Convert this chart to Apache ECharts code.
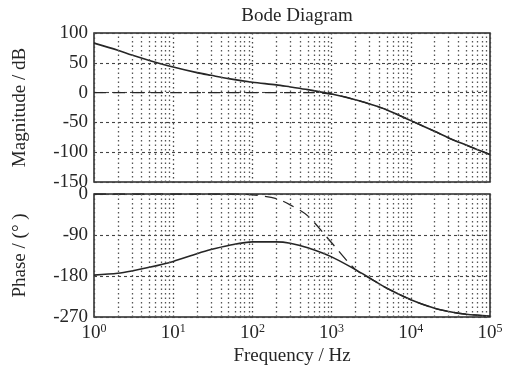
<!DOCTYPE html>
<html>
<head>
<meta charset="utf-8">
<script src="https://cdn.jsdelivr.net/npm/echarts@6/dist/echarts.min.js"></script>
<style>
  html, body { margin: 0; padding: 0; background: #fff; }
  #chart { width: 511px; height: 374px; }
</style>
</head>
<body>
<div id="chart"></div>
<script>
// frequency points (Hz)
const freqs = [1, 2, 3, 5, 10, 20, 30, 50, 100, 200, 300, 500, 1000, 2000, 3000, 5000, 10000, 20000, 30000, 50000, 100000];

// magnitude (dB)
const magSolid = [83, 71, 63, 54, 43, 33.5, 29, 23.5, 17.5, 13, 9.5, 5, -2.5, -12, -19, -29, -47, -65, -76, -88, -104];
const magDashed = [0, 0, 0, 0, 0, 0, 0, 0, 0, 0, 0, 0, -2.5, -12, -19, -29, -47, -65, -76, -88, -104];

// phase (deg)
const phaseSolid = [-178, -174, -169, -161, -148, -131, -122, -113, -105, -105, -108, -118, -138, -166, -184, -207, -232, -251, -258, -264, -268];
const phaseDashed = [0, 0, 0, 0, 0, 0, 0, 0, -2, -10, -24, -48, -107, -166, -184, -207, -232, -251, -258, -264, -268];

// axis ticks
const magTicks = { min: -150, max: 100, step: 50 };
const phaseTicks = { min: -270, max: 0, step: 90 };
const decades = [0, 1, 2, 3, 4];
const minorMult = [2, 3, 4, 5, 6, 7, 8, 9];

const pairs = ys => freqs.map((f, i) => [f, ys[i]]);
const minorLines = [];
decades.forEach(d => minorMult.forEach(m => minorLines.push({ xAxis: m * Math.pow(10, d) })));

const font = '"Liberation Serif", "DejaVu Serif", serif';
const ink = '#262626';
const gridLine = { show: true, lineStyle: { color: '#444', type: [3, 3], width: 1.1 } };
const vGridLine = { show: true, lineStyle: { color: '#444', type: [1.5, 3], width: 1.3 } };

const minorMark = {
  silent: true,
  symbol: 'none',
  label: { show: false },
  lineStyle: { color: '#555', type: [1.5, 3], width: 1.3 },
  data: minorLines,
};

const xBase = {
  type: 'log',
  logBase: 10,
  min: 1,
  max: 100000,
  axisLine: { show: false },
  axisTick: { show: false },
  splitLine: vGridLine,
};

const labelStyle = { fontFamily: font, fontSize: 19, color: ink, margin: 6 };
const nameStyle = { fontFamily: font, fontSize: 19, color: ink };

const chart = echarts.init(document.getElementById('chart'));
chart.setOption({
  animation: false,
  backgroundColor: '#fff',
  title: {
    text: 'Bode Diagram',
    left: 292,
    textAlign: 'center',
    top: 2,
    textStyle: { fontFamily: font, fontSize: 19, fontWeight: 'normal', color: ink },
  },
  grid: [
    { left: 94, top: 33, width: 396, height: 149, show: true, borderColor: ink, borderWidth: 1.5 },
    { left: 94, top: 194, width: 396, height: 123, show: true, borderColor: ink, borderWidth: 1.5 },
  ],
  xAxis: [
    { ...xBase, gridIndex: 0, axisLabel: { show: false } },
    {
      ...xBase,
      gridIndex: 1,
      name: 'Frequency / Hz',
      nameLocation: 'middle',
      nameGap: 30,
      nameTextStyle: nameStyle,
      axisLabel: {
        margin: 6,
        formatter: v => '{b|10}{s|' + Math.round(Math.log10(v)) + '}',
        rich: {
          b: { fontFamily: font, fontSize: 19, color: ink },
          s: { fontFamily: font, fontSize: 12, color: ink, padding: [0, 0, 9, 0] },
        },
      },
    },
  ],
  yAxis: [
    {
      type: 'value',
      gridIndex: 0,
      min: magTicks.min,
      max: magTicks.max,
      interval: magTicks.step,
      name: 'Magnitude / dB',
      nameLocation: 'middle',
      nameGap: 64,
      nameTextStyle: nameStyle,
      axisLine: { show: false },
      axisTick: { show: false },
      axisLabel: labelStyle,
      splitLine: gridLine,
    },
    {
      type: 'value',
      gridIndex: 1,
      min: phaseTicks.min,
      max: phaseTicks.max,
      interval: phaseTicks.step,
      name: 'Phase / (° )',
      nameLocation: 'middle',
      nameGap: 64,
      nameTextStyle: nameStyle,
      axisLine: { show: false },
      axisTick: { show: false },
      axisLabel: labelStyle,
      splitLine: gridLine,
    },
  ],
  series: [
    {
      type: 'line', xAxisIndex: 0, yAxisIndex: 0, data: pairs(magSolid),
      smooth: 0.3, showSymbol: false, lineStyle: { color: ink, width: 1.6 },
      markLine: minorMark,
    },
    {
      type: 'line', xAxisIndex: 0, yAxisIndex: 0, data: pairs(magDashed),
      smooth: 0.3, showSymbol: false, lineStyle: { color: ink, width: 1.3, type: [12, 7] },
    },
    {
      type: 'line', xAxisIndex: 1, yAxisIndex: 1, data: pairs(phaseSolid),
      smooth: 0.3, showSymbol: false, lineStyle: { color: ink, width: 1.6 },
      markLine: minorMark,
    },
    {
      type: 'line', xAxisIndex: 1, yAxisIndex: 1, data: pairs(phaseDashed),
      smooth: 0.3, showSymbol: false, lineStyle: { color: ink, width: 1.3, type: [12, 7] },
    },
  ],
});
</script>
</body>
</html>
